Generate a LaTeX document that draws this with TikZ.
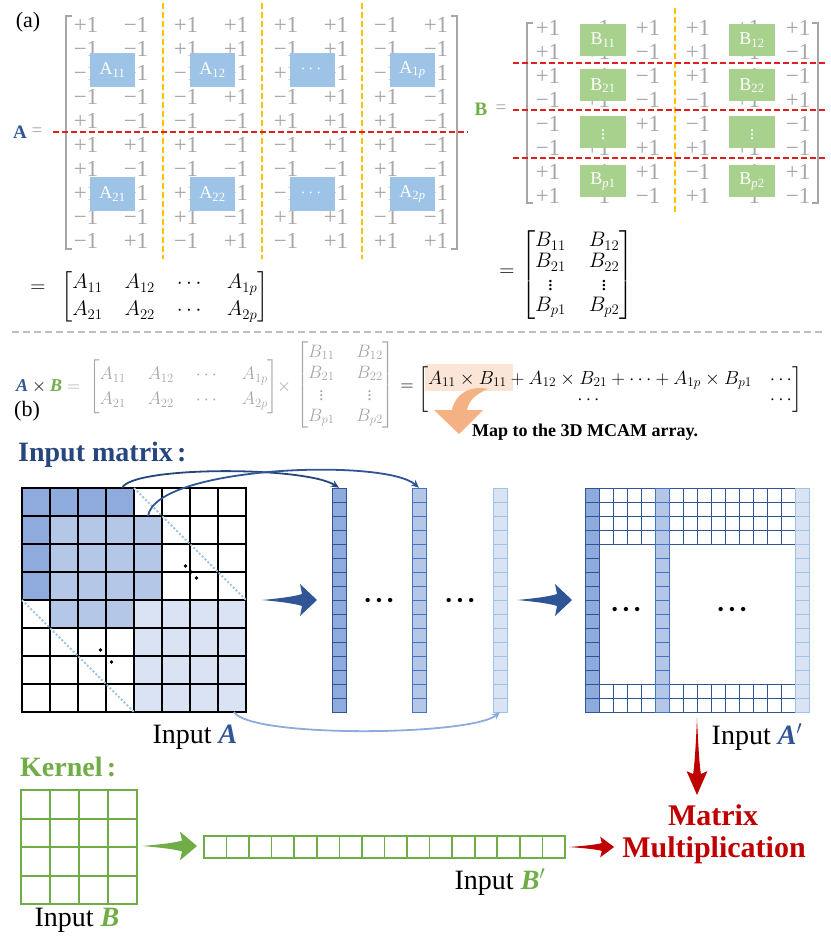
\RequirePackage{fix-cm}
\documentclass[tikz,border=0pt]{standalone}
\usepackage{amsmath,amssymb}
\usepackage{fontspec}
\setmainfont{Liberation Serif}
\usetikzlibrary{arrows.meta}

\definecolor{entrygray}{HTML}{A6A6A6}
\definecolor{boxblue}{HTML}{9DC3E6}
\definecolor{boxgreen}{HTML}{A9D18E}
\definecolor{cutyellow}{HTML}{FFC000}
\definecolor{cutred}{HTML}{E02020}
\definecolor{sepgray}{HTML}{BFBFBF}
\definecolor{matblue}{HTML}{2F5597}
\definecolor{navy}{HTML}{26467E}
\definecolor{kgreen}{HTML}{70AD47}
\definecolor{peach}{HTML}{FBE5D6}
\definecolor{mapor}{HTML}{F4B183}
\definecolor{mulred}{HTML}{C00000}
\definecolor{cellA}{HTML}{8FAADC}
\definecolor{cellB}{HTML}{B4C7E7}
\definecolor{cellC}{HTML}{DAE3F3}
\definecolor{lineB}{HTML}{4472C4}
\definecolor{lineC}{HTML}{9DC3E6}

\tikzset{
  entry/.style={text=entrygray,inner sep=0pt,font=\fontsize{23}{25}\selectfont},
  blockA/.style={fill=boxblue,text=white,inner sep=0pt,minimum width=45pt,minimum height=34pt,font=\fontsize{18}{20}\selectfont},
  blockB/.style={fill=boxgreen,text=white,inner sep=0pt,minimum width=46pt,minimum height=32pt,font=\fontsize{18}{20}\selectfont},
  brack/.style={draw=entrygray,line width=1.8pt},
  cutv/.style={draw=cutyellow,line width=2.2pt,dash pattern=on 6pt off 3pt},
  cuth/.style={draw=cutred,line width=2.2pt,dash pattern=on 6pt off 3pt},
  eqn/.style={inner sep=0pt,font=\fontsize{21}{27}\selectfont},
  incap/.style={inner sep=0pt,font=\fontsize{28}{30}\selectfont},
  headline/.style={inner sep=0pt,font=\fontsize{28}{30}\selectfont\bfseries},
  ellip/.style={inner sep=0pt,font=\fontsize{18}{18}\selectfont},
  cellbox/.style={draw=black,line width=1.1pt},
  apgrid/.style={draw=matblue,line width=1pt,fill=white},
  kcell/.style={draw=kgreen,line width=2pt},
  hop/.style={line width=1.8pt,-{Stealth[length=8pt,width=7pt]}},
  pics/dart/.style={code={
    \fill[#1] (0,0) .. controls (22,-2) and (34,-4) .. (40,-6) -- (38,-16) -- (55,0)
      -- (38,16) -- (40,6) .. controls (34,4) and (22,2) .. (0,0) -- cycle;}},
  pics/colvec/.style n args={2}{code={
    \foreach \r in {0,...,15}
      \draw[fill=#1,draw=#2,line width=1pt] (0,14*\r) rectangle +(14,14);}}
}
\newcommand{\bigdots}{\textbullet\hspace{5pt}\textbullet\hspace{5pt}\textbullet}

\begin{document}
\begin{tikzpicture}[x=1pt,y=-1pt]
  \useasboundingbox (0,0) rectangle (830,941);

  % ---------- (a) ----------
  \node[inner sep=0pt,font=\fontsize{22}{24}\selectfont] (tagA) at (28,22) {(a)};
  \node[inner sep=0pt,text=matblue,font=\fontsize{19}{21}\selectfont\bfseries] (nameA) at (20,132) {A};
  \node[inner sep=0pt,text=entrygray,font=\fontsize{19}{21}\selectfont] (eqA) at (37,132) {=};

  \foreach \vals [count=\i] in {%
    {+1,−1,+1,+1,+1,+1,−1,+1},%
    {−1,−1,+1,+1,−1,+1,−1,−1},%
    {−1,+1,−1,+1,+1,−1,−1,+1},%
    {−1,−1,−1,+1,−1,+1,+1,−1},%
    {+1,−1,−1,−1,+1,+1,+1,−1},%
    {+1,+1,+1,−1,−1,+1,+1,−1},%
    {+1,−1,−1,−1,−1,−1,+1,−1},%
    {+1,+1,+1,−1,−1,+1,+1,−1},%
    {−1,−1,+1,−1,+1,+1,−1,−1},%
    {−1,+1,−1,+1,−1,+1,+1,+1}}
    \foreach \v [count=\j] in \vals
      \node[entry] (a\i-\j) at ({36+50*\j},{1+24*\i}) {\v};

  \draw[brack] (72,16) -| (66,249) -- (72,249);
  \draw[brack] (451,16) -| (457,249) -- (451,249);

  \foreach \lab [count=\k] in {A\textsubscript{11},A\textsubscript{12},$\cdots$,A\textsubscript{1\textit{p}}}
    \node[blockA] (ta\k) at ({12.5+100*\k},70) {\lab};
  \foreach \lab [count=\k] in {A\textsubscript{21},A\textsubscript{22},$\cdots$,A\textsubscript{2\textit{p}}}
    \node[blockA] (tc\k) at ({12.5+100*\k},194) {\lab};

  \foreach \xx in {163,262,362}
    \draw[cutv] (\xx,3) -- (\xx,259);
  \draw[cuth] (53,132) -- (468,132);

  \node[eqn] (eqa) at (38,289) {$=$};
  \node[eqn,anchor=west] (lowa) at (61,297)
    {\setlength\arraycolsep{11pt}$\begin{bmatrix}A_{11}&A_{12}&\cdots&A_{1p}\\A_{21}&A_{22}&\cdots&A_{2p}\end{bmatrix}$};

  % matrix B
  \node[inner sep=0pt,text=kgreen,font=\fontsize{19}{21}\selectfont\bfseries] (nameB) at (481,109) {B};
  \node[inner sep=0pt,text=entrygray,font=\fontsize{19}{21}\selectfont] (eqB) at (501,109) {=};

  \foreach \vals [count=\i] in {%
    {+1,−1,+1,+1,+1,+1},%
    {+1,+1,−1,+1,+1,−1},%
    {+1,−1,−1,+1,−1,−1},%
    {−1,+1,−1,−1,+1,+1},%
    {−1,+1,+1,−1,+1,−1},%
    {−1,+1,+1,+1,+1,−1},%
    {+1,−1,+1,−1,−1,+1},%
    {+1,−1,−1,+1,−1,−1}}
    \foreach \v [count=\j] in \vals
      \node[entry] (b\i-\j) at ({498+50*\j},{4+24*\i}) {\v};

  \draw[brack] (533,23) -| (527,203) -- (533,203);
  \draw[brack] (812,23) -| (818,203) -- (812,203);

  \foreach \lab/\yy [count=\k] in {B\textsubscript{11}/40,B\textsubscript{21}/85.5,$\vdots$/132,B\textsubscript{\textit{p}1}/181.5}
    \node[blockB] (tb\k) at (603,\yy) {\lab};
  \foreach \lab/\yy [count=\k] in {B\textsubscript{12}/40,B\textsubscript{22}/85.5,$\vdots$/132,B\textsubscript{\textit{p}2}/181.5}
    \node[blockB] (td\k) at (752,\yy) {\lab};

  \draw[cutv] (675,8) -- (675,213);
  \foreach \yy in {63,110,158}
    \draw[cuth] (513,\yy) -- (826,\yy);

  \node[eqn] (eqb) at (507,273) {$=$};
  \node[eqn,anchor=west,font=\fontsize{21}{21}\selectfont] (lowb) at (521,275)
    {\setlength\arraycolsep{11.5pt}$\begin{bmatrix}B_{11}&B_{12}\\B_{21}&B_{22}\\\vdots&\vdots\\B_{p1}&B_{p2}\end{bmatrix}$};

  \draw[sepgray,line width=2pt,dash pattern=on 7pt off 4pt] (12,332) -- (822,332);

  % product line
  \node[inner sep=0pt,font=\fontsize{18}{21}\selectfont] (axb) at (48,386)
    {$\textcolor{matblue}{\textbf{\textit{A}}}\times\textcolor{kgreen}{\textbf{\textit{B}}}\mathrel{\textcolor{entrygray}{=}}$};
  \node[anchor=west,inner sep=0pt,text=entrygray,font=\fontsize{18}{25}\selectfont] (fa) at (89,387)
    {\setlength\arraycolsep{11pt}$\begin{bmatrix}A_{11}&A_{12}&\cdots&A_{1p}\\A_{21}&A_{22}&\cdots&A_{2p}\end{bmatrix}$};
  \node[inner sep=0pt,text=entrygray,font=\fontsize{18}{21}\selectfont] (tm) at (284,387) {$\times$};
  \node[anchor=west,inner sep=0pt,text=entrygray,font=\fontsize{18}{21}\selectfont] (fb) at (296,385)
    {\setlength\arraycolsep{11pt}$\begin{bmatrix}B_{11}&B_{12}\\B_{21}&B_{22}\\\vdots&\vdots\\B_{p1}&B_{p2}\end{bmatrix}$};
  \node[inner sep=0pt,font=\fontsize{18}{21}\selectfont] (eqp) at (407,387) {$=$};
  \node[fill=peach,inner sep=0pt,minimum width=88pt,minimum height=27pt] (hl) at (469,377) {};
  \fill[mapor] (488,389) .. controls (470,385) and (455,394) .. (452,410) -- (434,410) -- (459,434)
    -- (483,410) -- (467,410) .. controls (469,400) and (476,394) .. (488,389) -- cycle;
  \node[anchor=west,inner sep=0pt,font=\fontsize{19}{20}\selectfont] (prod) at (418,390)
    {$\left[\begin{array}{@{}c@{\hspace{18pt}}c@{}}A_{11}\times B_{11}+A_{12}\times B_{21}+\cdots+A_{1p}\times B_{p1}&\cdots\\\cdots&\cdots\end{array}\right]$};
  \node[anchor=west,inner sep=0pt,font=\fontsize{18}{20}\selectfont\bfseries] (maptxt) at (472,432) {Map to the 3D MCAM array.};

  % ---------- (b) ----------
  \node[inner sep=0pt,font=\fontsize{22}{24}\selectfont] (tagB) at (27,411) {(b)};
  \node[headline,anchor=west,text=navy] (imat) at (18,455) {Input matrix\hspace{0.15em}:};

  % input A grid
  \fill[cellA] (22,488) rectangle (134,600);
  \fill[cellB] (50,516) rectangle (162,628);
  \fill[cellC] (134,600) rectangle (246,712);
  \foreach \r in {0,...,7}
    \foreach \c in {0,...,7}
      \draw[cellbox] ({22+28*\c},{488+28*\r}) rectangle +(28,28);
  \draw[line width=2.2pt] (22,600) -- (22,488) -- (134,488) -- (134,516) -- (162,516) -- (162,600);
  \draw[line width=2.2pt] (134,628) -- (50,628) -- (50,600) -- (22,600);
  \draw[lineC,line width=1.8pt,dash pattern=on 2pt off 2pt] (134,488) -- (246,600);
  \draw[lineC,line width=1.8pt,dash pattern=on 2pt off 2pt] (22,600) -- (134,712);
  \foreach \p in {(185.5,566),(191,572),(196.5,578),(100.5,650),(106,656),(111.5,662)}
    \fill \p circle (1.9pt);
  \node[incap] (inA) at (195,737) {Input \textcolor{matblue}{\textbf{\textit{A}}}};

  \pic at (262,600) {dart=matblue};

  % column vectors
  \pic at (332,488) {colvec={cellA}{matblue}};
  \pic at (412,488) {colvec={cellB}{lineB}};
  \pic at (493,488) {colvec={cellC}{lineC}};
  \node[inner sep=0pt,minimum width=14pt,minimum height=224pt] (v1) at (339,600) {};
  \node[inner sep=0pt,minimum width=14pt,minimum height=224pt] (v2) at (419,600) {};
  \node[inner sep=0pt,minimum width=14pt,minimum height=224pt] (v3) at (500,600) {};
  \node[ellip] (dv1) at (379,602) {\bigdots};
  \node[ellip] (dv2) at (460,602) {\bigdots};

  \coordinate (w1) at (122,488);
  \coordinate (w2) at (148,516);
  \coordinate (w3) at (234,712);
  \draw[hop,navy] (w1) .. controls (132,466) and (305,466) .. (v1.north);
  \draw[hop,matblue] (w2) .. controls (156,466) and (385,458) .. (v2.north);
  \draw[hop,cellA] (w3) .. controls (250,738) and (470,736) .. (v3.south);

  \pic at (517,600) {dart=matblue};

  % input A'
  \foreach \r in {0,1,2,3,14,15}
    \foreach \c in {1,...,14}
      \draw[apgrid] ({585+14*\c},{488+14*\r}) rectangle +(14,14);
  \pic at (585,488) {colvec={cellA}{matblue}};
  \pic at (655,488) {colvec={cellB}{lineB}};
  \pic at (795,488) {colvec={cellC}{lineC}};
  \node[ellip] (dp1) at (626,611) {\bigdots};
  \node[ellip] (dp2) at (732,611) {\bigdots};
  \node[incap] (inAp) at (757,737) {Input \textcolor{matblue}{\textbf{\textit{A}}$'$}};

  \pic[rotate=-90,xscale=1.4,yscale=0.65] at (697,718) {dart=mulred};

  % kernel
  \node[headline,anchor=west,text=kgreen] (kern) at (20,767) {Kernel\hspace{0.15em}:};
  \foreach \r in {0,...,3}
    \foreach \c in {0,...,3}
      \draw[kcell] ({21+29*\c},{790+28.5*\r}) rectangle +(29,28.5);
  \node[incap] (inB) at (77,920) {Input \textcolor{kgreen}{\textbf{\textit{B}}}};

  \pic[yscale=0.9] at (142,846) {dart=kgreen};
  \foreach \c in {0,...,15}
    \draw[kcell,line width=1.6pt] ({204+22.56*\c},836) rectangle +(22.56,22);
  \node[incap] (inBp) at (500,882) {Input \textcolor{kgreen}{\textbf{\textit{B}}$'$}};

  \pic[xscale=0.82,yscale=0.65] at (569,847) {dart=mulred};
  \node[inner sep=0pt,text=mulred,font=\fontsize{30}{32}\selectfont\bfseries] (mm1) at (713,815) {Matrix};
  \node[inner sep=0pt,text=mulred,font=\fontsize{30}{32}\selectfont\bfseries] (mm2) at (714,850) {Multiplication};
\end{tikzpicture}
\end{document}
